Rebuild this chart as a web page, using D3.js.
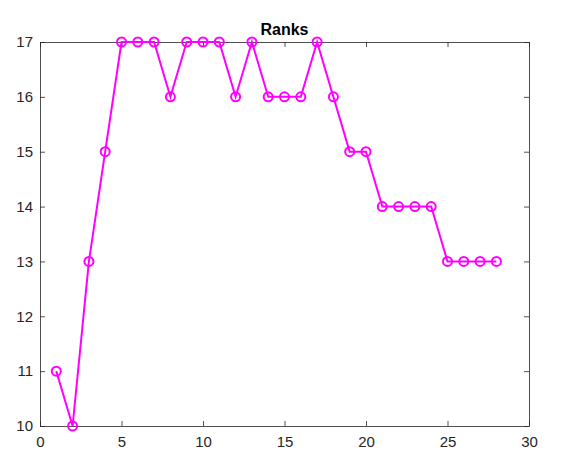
<!DOCTYPE html>
<html>
<head>
<meta charset="utf-8">
<script src="https://cdn.jsdelivr.net/npm/d3@7"></script>
<style>
  body { margin: 0; background: #fff; }
  svg { display: block; }
</style>
</head>
<body>
<div id="chart"></div>
<script>
// data
const xs = [1, 2, 3, 4, 5, 6, 7, 8, 9, 10, 11, 12, 13, 14, 15, 16, 17, 18, 19, 20, 21, 22, 23, 24, 25, 26, 27, 28];
const ranks = [11, 10, 13, 15, 17, 17, 17, 16, 17, 17, 17, 16, 17, 16, 16, 16, 17, 16, 15, 15, 14, 14, 14, 14, 13, 13, 13, 13];
const xTicks = [0, 5, 10, 15, 20, 25, 30];
const yTicks = [10, 11, 12, 13, 14, 15, 16, 17];
const title = "Ranks";

const W = 569, H = 464;
const margin = { top: 42, right: 40, bottom: 38, left: 40 };
const width = W - margin.left - margin.right,
    height = H - margin.top - margin.bottom;

const svg = d3.select("#chart")
    .append("svg")
    .attr("width", W)
    .attr("height", H)
    .append("g")
    .attr("transform", `translate(${margin.left}, ${margin.top})`);

const xScale = d3.scaleLinear().domain([0, 30]).range([0, width]);
const yScale = d3.scaleLinear().domain([10, 17]).range([height, 0]);

const axisColor = "#262626";
const font = "'Liberation Sans', Arial, sans-serif";
const fmt = d3.format("d");

function styleAxis(g) {
    g.select(".domain").remove();
    g.selectAll("line").attr("stroke", axisColor).attr("stroke-width", 0.8);
    g.selectAll("text").attr("fill", axisColor).style("font-family", font).style("font-size", "15px");
}

// bottom axis (ticks inward)
svg.append("g")
    .attr("transform", `translate(0, ${height})`)
    .call(d3.axisBottom(xScale).tickValues(xTicks).tickFormat(fmt).tickSizeInner(-5).tickSizeOuter(0).tickPadding(10))
    .call(styleAxis);

// top mirrored ticks
svg.append("g")
    .call(d3.axisTop(xScale).tickValues(xTicks).tickSizeInner(-5).tickSizeOuter(0).tickFormat(""))
    .call(styleAxis);

// left axis
svg.append("g")
    .call(d3.axisLeft(yScale).tickValues(yTicks).tickFormat(fmt).tickSizeInner(-5).tickSizeOuter(0).tickPadding(7))
    .call(styleAxis);

// right mirrored ticks
svg.append("g")
    .attr("transform", `translate(${width}, 0)`)
    .call(d3.axisRight(yScale).tickValues(yTicks).tickSizeInner(-5).tickSizeOuter(0).tickFormat(""))
    .call(styleAxis);

// box
svg.append("rect")
    .attr("x", 0.5)
    .attr("y", 0.5)
    .attr("width", width)
    .attr("height", height)
    .attr("fill", "none")
    .attr("stroke", axisColor)
    .attr("stroke-width", 0.8);

const pts = xs.map((x, i) => ({ x: x, y: ranks[i] }));

const line = d3.line()
    .x(d => xScale(d.x))
    .y(d => yScale(d.y));

svg.append("path")
    .datum(pts)
    .attr("fill", "none")
    .attr("stroke", "#ff00ff")
    .attr("stroke-width", 2)
    .attr("d", line);

svg.selectAll(".pt")
    .data(pts)
    .enter()
    .append("circle")
    .attr("class", "pt")
    .attr("cx", d => xScale(d.x))
    .attr("cy", d => yScale(d.y))
    .attr("r", 4.5)
    .attr("fill", "none")
    .attr("stroke", "#ff00ff")
    .attr("stroke-width", 2);

svg.append("text")
    .attr("x", width / 2)
    .attr("y", -7)
    .attr("text-anchor", "middle")
    .style("font-family", font)
    .style("font-size", "16px")
    .style("font-weight", "bold")
    .attr("fill", "#000")
    .text(title);
</script>
</body>
</html>
